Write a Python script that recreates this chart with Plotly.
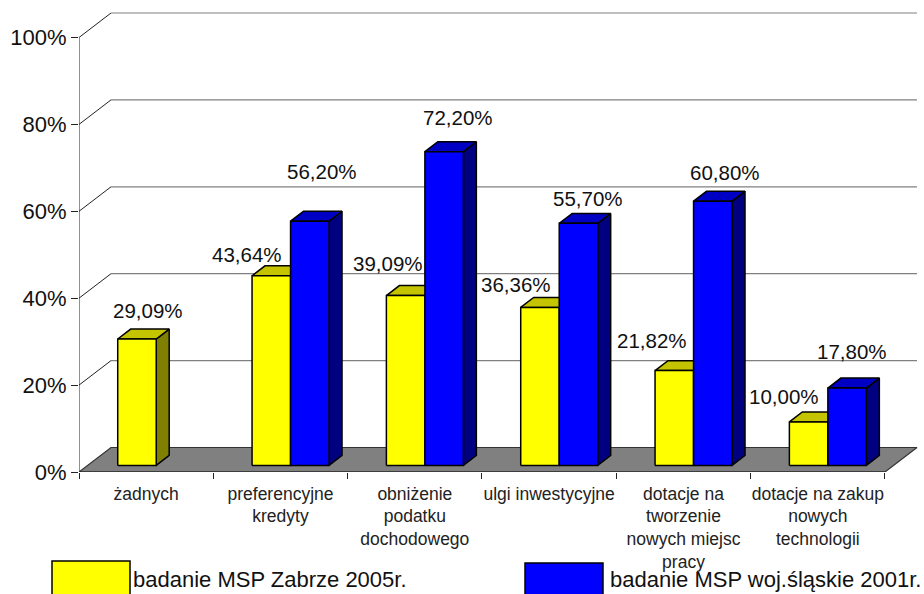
import plotly.graph_objects as go

categories = ["żadnych", "preferencyjne<br>kredyty", "obniżenie<br>podatku<br>dochodowego",
              "ulgi inwestycyjne", "dotacje na<br>tworzenie<br>nowych miejsc<br>pracy",
              "dotacje na zakup<br>nowych<br>technologii"]
zabrze_2005 = [29.09, 43.64, 39.09, 36.36, 21.82, 10.00]
slaskie_2001 = [None, 56.20, 72.20, 55.70, 60.80, 17.80]
y_ticks = [0, 20, 40, 60, 80, 100]
y_tick_labels = ["0%", "20%", "40%", "60%", "80%", "100%"]
series_names = ["badanie MSP Zabrze 2005r.", "badanie MSP woj.śląskie 2001r."]

# style / layout
W, H = 924, 594
X0, Y0 = 79, 472            # pixel of category 0 / value 0
CAT_PX, VAL_PX = 134.33, 4.345
X_MAX = (W - X0) / CAT_PX
Y_MAX = Y0 / VAL_PX
DX, DY = 32 / CAT_PX, 24.5 / VAL_PX   # full floor depth in data units
BAR_D0, BAR_D1 = 0.27, 0.675
BAR_START, BAR_W = 0.224, 0.2866
N = len(categories)
# hand-placed label offsets in pixels from bar front-top centre
shift_yellow = [(11, 28), (-24, 21), (-18, 32), (-24, 23), (-22, 30), (-25, 25)]
shift_blue = [None, (12, 50), (14, 34), (10, 25), (12, 29), (5, 37)]


def proj(c, v, d):
    return c + d * DX, v + d * DY


def poly(pts, fill, line="black", width=1.5):
    return go.Scatter(x=[p[0] for p in pts] + [pts[0][0]], y=[p[1] for p in pts] + [pts[0][1]],
                      mode="lines", fill="toself", fillcolor=fill,
                      line=dict(color=line, width=width), hoverinfo="skip",
                      showlegend=False, cliponaxis=False)


def seg(a, b, color, width=1.0):
    return go.Scatter(x=[a[0], b[0]], y=[a[1], b[1]], mode="lines",
                      line=dict(color=color, width=width), hoverinfo="skip",
                      showlegend=False, cliponaxis=False)


fig = go.Figure()

# walls and floor
for t in y_ticks[1:]:
    fig.add_trace(seg(proj(0, t, 1), proj(N, t, 1), "#808080", 1.2))
    fig.add_trace(seg(proj(0, t, 0), proj(0, t, 1), "#222222", 1.0))
fig.add_trace(poly([proj(0, 0, 0), proj(0, 0, 1), proj(N, 0, 1), proj(N, 0, 0)], "#808080", "#333333", 1.2))
fig.add_trace(seg(proj(0, 0, 0), proj(0, 100, 0), "#222222", 1.0))
fig.add_trace(seg(proj(0, 0, 0), proj(N, 0, 0), "#222222", 1.0))

annots = []


def bar(left, value, front, top, side):
    r = left + BAR_W
    fig.add_trace(poly([proj(r, 0, BAR_D0), proj(r, 0, BAR_D1), proj(r, value, BAR_D1), proj(r, value, BAR_D0)], side))
    fig.add_trace(poly([proj(left, value, BAR_D0), proj(left, value, BAR_D1), proj(r, value, BAR_D1), proj(r, value, BAR_D0)], top))
    fig.add_trace(poly([proj(left, 0, BAR_D0), proj(r, 0, BAR_D0), proj(r, value, BAR_D0), proj(left, value, BAR_D0)], front))


def label(left, value, shift):
    x, y = proj(left + BAR_W / 2, value, BAR_D0)
    annots.append(dict(x=x, y=y, xref="x", yref="y", text=f"{value:.2f}".replace(".", ",") + "%",
                       showarrow=False, xanchor="center", yanchor="middle",
                       xshift=shift[0], yshift=shift[1],
                       font=dict(family="Liberation Sans", size=20.5, color="#111111")))


for i in range(N):
    left = i + BAR_START
    bar(left, zabrze_2005[i], "#FFFF00", "#C4C400", "#808000")
    label(left, zabrze_2005[i], shift_yellow[i])
    if slaskie_2001[i] is not None:
        bar(left + BAR_W, slaskie_2001[i], "#0000FF", "#0000C4", "#000080")
        label(left + BAR_W, slaskie_2001[i], shift_blue[i])


def px(x):
    return (x - X0) / (W - X0)


def py(y):
    return (Y0 - y) / Y0


shapes = []
for name, color, x_a, x_b, y_t, x_text in [
    (series_names[0], "#FFFF00", 52, 130, 561, 133),
    (series_names[1], "#0000FF", 525, 603, 563, 610),
]:
    shapes.append(dict(type="rect", xref="paper", yref="paper", x0=px(x_a), x1=px(x_b), y0=py(y_t), y1=py(H + 6),
                       fillcolor=color, line=dict(color="black", width=1.5)))
    annots.append(dict(xref="paper", yref="paper", x=px(x_text), y=py(594), text=name, showarrow=False,
                       xanchor="left", yanchor="bottom", xshift=-2,
                       font=dict(family="Liberation Sans", size=22, color="#111111")))

fig.update_layout(
    width=W, height=H, autosize=False,
    margin=dict(l=X0, r=0, t=0, b=H - Y0, pad=0),
    paper_bgcolor="white", plot_bgcolor="white", showlegend=False,
    annotations=annots, shapes=shapes,
    xaxis=dict(range=[0, X_MAX], showgrid=False, zeroline=False, showline=False,
               tickmode="array", tickvals=[i + 0.5 for i in range(N)], ticktext=categories,
               ticks="", ticklabelstandoff=9, tickangle=0,
               tickfont=dict(family="Liberation Sans", size=17.5, color="#222222"),
               minor=dict(tickmode="array", tickvals=list(range(N + 1)), ticks="outside", ticklen=6,
                          tickcolor="#222222", tickwidth=1, showgrid=False)),
    yaxis=dict(range=[0, Y_MAX], showgrid=False, zeroline=False, showline=False,
               tickmode="array", tickvals=y_ticks, ticktext=y_tick_labels,
               ticks="outside", ticklen=7, tickcolor="#222222", tickwidth=1,
               tickfont=dict(family="Liberation Sans", size=22, color="#111111")),
)
fig.write_html("out.html", config={"displayModeBar": False},
               post_script="document.body.style.margin='0';document.body.style.overflow='hidden';")
